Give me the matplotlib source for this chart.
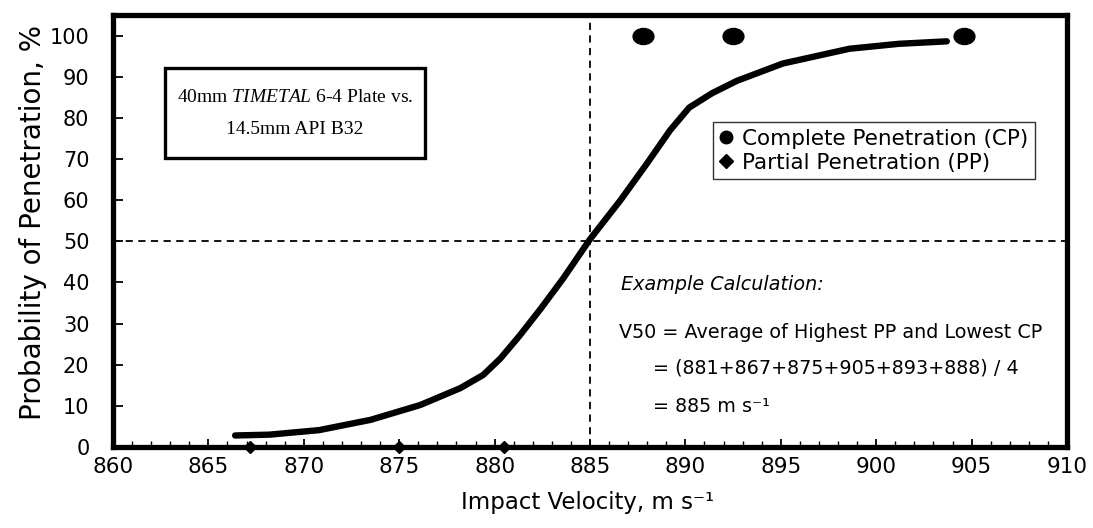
import matplotlib
matplotlib.use("Agg")
import matplotlib.pyplot as plt
from matplotlib.patches import Rectangle
from matplotlib.lines import Line2D
from matplotlib.path import Path
from matplotlib.transforms import Affine2D

plt.rcParams['font.family'] = ['DejaVu Sans']
plt.rcParams['mathtext.fontset'] = 'custom'
plt.rcParams['mathtext.it'] = 'Liberation Serif:italic'
plt.rcParams['mathtext.rm'] = 'Liberation Serif'

# Data
curve_v = [866.4, 868.2, 870.8, 873.5, 876.1, 878.2, 879.4, 880.3, 881.3, 882.4, 883.6,
           885.0, 886.6, 888.0, 889.2, 890.2, 891.4, 892.7, 895.1, 898.6, 901.2, 903.7]
curve_p = [2.8, 3.0, 4.1, 6.6, 10.2, 14.3, 17.5, 21.5, 27.0, 33.5, 41.0,
           50.5, 60.0, 69.0, 77.0, 82.5, 86.0, 89.0, 93.2, 96.8, 98.0, 98.6]
cp_v = [887.8, 892.5, 904.6]
cp_p = [100, 100, 100]
pp_v = [867.2, 875.0, 880.5]
pp_p = [0, 0, 0]
v50 = 885
p50 = 50
x_ticks = [860, 865, 870, 875, 880, 885, 890, 895, 900, 905, 910]
y_ticks = [0, 10, 20, 30, 40, 50, 60, 70, 80, 90, 100]

ellipse = Path.unit_circle().transformed(Affine2D().scale(1.3, 1.0))

fig = plt.figure(figsize=(10.93, 5.28), dpi=100)
ax = fig.add_axes([113/1093, 1 - 447/528, 954/1093, 432/528])

ax.plot(curve_v, curve_p, color='black', lw=4.6, solid_capstyle='round',
        solid_joinstyle='round', zorder=3)
ax.plot(cp_v, cp_p, ls='none', marker=ellipse, color='black', ms=15, clip_on=False, zorder=4)
ax.plot(pp_v, pp_p, 'D', color='black', ms=6.5, clip_on=False, zorder=4)

ax.axhline(p50, color='black', lw=1.3, ls=(0, (4, 3)), zorder=2)
ax.axvline(v50, color='black', lw=1.3, ls=(0, (4, 3)), zorder=2)

ax.set_xlim(860, 910)
ax.set_ylim(0, 105)
ax.set_xticks(x_ticks)
ax.set_yticks(y_ticks)
ax.set_xticks([v for v in range(860, 911)], minor=True)
ax.tick_params(axis='x', which='major', direction='in', length=6, width=1.3,
               labelsize=15.5, pad=7)
ax.tick_params(axis='x', which='minor', direction='in', length=4, width=1.0)
ax.tick_params(axis='y', which='major', direction='in', length=7, width=1.3,
               labelsize=15, pad=17)
for s in ax.spines.values():
    s.set_linewidth(3.8)

ax.set_xlabel('Impact Velocity, m s⁻¹', fontsize=16.5)
ax.xaxis.set_label_coords(0.497, -0.103)
ax.set_ylabel('Probability of Penetration, %', fontsize=20)
ax.yaxis.set_label_coords(-0.069, 0.52)

# Title box
ax.add_patch(Rectangle((0.0545, 0.669), 0.2725, 0.208, transform=ax.transAxes,
                       fill=False, ec='black', lw=2.4, zorder=5))
ax.text(0.1905, 0.810, '40mm $\\mathit{TIMETAL}$ 6-4 Plate vs.', transform=ax.transAxes,
        ha='center', va='center', fontsize=14, family='Liberation Serif')
ax.text(0.1905, 0.735, '14.5mm API B32', transform=ax.transAxes,
        ha='center', va='center', fontsize=14, family='Liberation Serif')

# Legend
handles = [Line2D([], [], marker='o', ls='none', color='black', ms=9),
           Line2D([], [], marker='D', ls='none', color='black', ms=7)]
leg = ax.legend(handles, ['Complete Penetration (CP)', 'Partial Penetration (PP)'],
                loc='upper left', bbox_to_anchor=(0.629, 0.752), borderaxespad=0,
                fontsize=15.5, frameon=True, fancybox=False, handlelength=0.6,
                handletextpad=0.45, borderpad=0.3, labelspacing=0.2)
leg.get_frame().set_edgecolor('black')
leg.get_frame().set_linewidth(1.0)

# Example calculation
fs = 13.8
ax.text(0.532, 0.375, 'Example Calculation:', transform=ax.transAxes, fontsize=fs,
        style='italic', va='center', ha='left')
ax.text(0.530, 0.266, 'V50 = Average of Highest PP and Lowest CP', transform=ax.transAxes,
        fontsize=fs, va='center', ha='left')
ax.text(0.566, 0.183, '= (881+867+875+905+893+888) / 4', transform=ax.transAxes,
        fontsize=fs, va='center', ha='left')
ax.text(0.566, 0.093, '= 885 m s⁻¹', transform=ax.transAxes,
        fontsize=fs, va='center', ha='left')

fig.savefig('out.png', dpi=100)
